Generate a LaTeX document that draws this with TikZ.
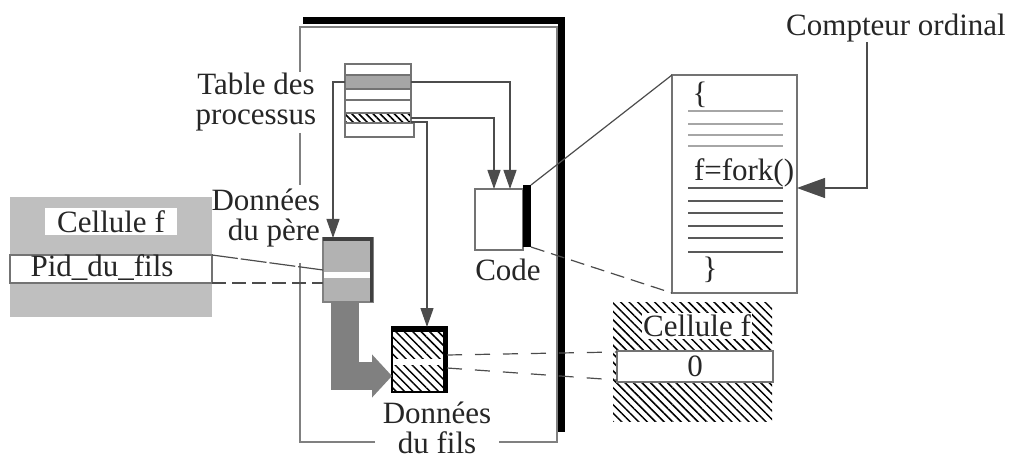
\documentclass[tikz,border=0pt]{standalone}
\usepackage{fontspec}
\setmainfont{Liberation Serif}
\usetikzlibrary{arrows.meta,patterns.meta}
\begin{document}
\begin{tikzpicture}[x=1pt,y=-1pt,
  every node/.style={font=\fontsize{31}{30.5}\selectfont, text=black!85, inner sep=0pt, outer sep=0pt},
  box/.style={draw=black!55, line width=1.2pt, minimum width=#1},
  boxh/.style={minimum height=#1},
  hatch/.style={pattern={Lines[angle=-45,distance=6pt,line width=1.5pt]}},
  conn/.style={draw=black!70, line width=1.2pt},
  arr/.style={conn, -{Triangle[length=19pt,width=13pt]}},
  frameline/.style={draw=black!50, line width=1.5pt},
  codeline/.style={line width=2.4pt, draw=black!35},
  codeline2/.style={line width=1.5pt, draw=black!65}
]
\useasboundingbox (0,0) rectangle (1014,462);

% frame
\draw[frameline] (300,72) -- (300,27) -- (557,27) -- (557,442) -- (499,442);
\draw[frameline] (375,442) -- (300,442) -- (300,263);
\draw[frameline] (300,133) -- (300,185);
\draw[line width=7pt, black] (303,21) -- (561,21) -- (561,432);

% table des processus
\node[box=66, boxh=11, fill=white] (r1) at (378,69.5) {};
\node[box=66, boxh=14, fill=black!35] (r2) at (378,82) {};
\node[box=66, boxh=11, fill=white] (r3) at (378,94.5) {};
\node[box=66, boxh=13, fill=white] (r4) at (378,106.5) {};
\node[box=66, boxh=10, pattern={Lines[angle=-45,distance=5pt,line width=1.6pt]}] (r5) at (378,118) {};
\node[box=69, boxh=14, fill=white] (r6) at (379.5,130) {};
\node[align=center] (ttab) at (256,102) {Table des\\processus};

% left cell
\node[minimum width=202, minimum height=120, fill=black!25] (cell) at (111,257) {};
\node[minimum width=132, minimum height=27, fill=white] (cellt) at (111,221.5) {Cellule f};
\node[box=202, boxh=28, fill=white] (pid) at (111,269) {};
\node (pidt) at (102,268) {Pid\_du\_fils};

% donnees du pere
\node[box=50, boxh=64, fill=black!30, draw=black!50] (pere) at (348,270) {};
\fill[white] (324,272) rectangle (372,278);
\draw[line width=4pt, black!75] (pere.north west) ++(0,1.5) -- ++(50,0);
\draw[line width=3pt, black!75] (pere.north east) ++(-1.5,0) -- ++(0,64);
\node[align=right, anchor=east] (tpere) at (320,218) {Données\\du père};

% donnees du fils
\node[box=55, boxh=65, draw=black, hatch] (fils) at (419.5,359.5) {};
\fill[white] (393,359) rectangle (446,365);
\draw[line width=5pt, black] (fils.north west) ++(0,2) -- ++(55,0);
\draw[line width=4pt, black] (fils.north east) ++(-2,0) -- ++(0,65);
\node[align=center] (tfils) at (437,428) {Données\\du fils};

% gray thick arrow
\draw[line width=28pt, draw=black!50, -{Triangle[length=20pt,width=42pt]}]
  ([xshift=-3pt]pere.south) |- ([yshift=-16.5pt]fils.west);

% code
\node[box=48, boxh=61, fill=white] (code) at (499,219.5) {};
\node[minimum width=8, minimum height=62, fill=black] (bar) at (527,216) {};
\node (tcode) at (508,270) {Code};

% listing
\node[box=125, boxh=218, fill=white] (lst) at (734.5,184) {};
\node (ob) at (700,95) {\{};
\foreach \yy in {111,124,135,146} \draw[codeline] (688,\yy) -- (783,\yy);
\node[anchor=west] (fork) at (694,173) {f=fork()};
\foreach \yy in {188,201,213,226,238,252} \draw[codeline2] (688,\yy) -- (783,\yy);
\node (cb) at (710,270) {\}};

% compteur ordinal
\node (co) at (896,28) {Compteur ordinal};
\coordinate (cx) at (867,0);
\draw[conn, -{Triangle[length=28pt,width=20pt]}] (co.south -| cx) |- ([yshift=-4pt]lst.east);

% right cell
\node[minimum width=159, minimum height=119, hatch] (zc) at (692.5,361.5) {};
\node[fill=white, inner sep=1.5pt] (zct) at (697,326) {Cellule f};
\node[box=156, boxh=31, fill=white] (zero) at (695,366.5) {0};

% connectors
\coordinate (ax1) at (333,0);
\coordinate (ax2) at (510,0);
\coordinate (ax3) at (494,0);
\coordinate (ax4) at (427,0);
\draw[arr] (r2.west) -| (ax1 |- pere.north);
\draw[arr] (r2.east) -| (ax2 |- code.north);
\draw[arr] (r5.east) -| (ax3 |- code.north);
\draw[arr] ([yshift=-4pt]r5.east) -| (ax4 |- fils.north);

\draw[conn] (bar.north east) -- (lst.north west);
\draw[conn, dash pattern=on 14pt off 7pt] (bar.south east) -- (lst.south west);
\draw[conn, dash pattern=on 26pt off 3pt] (pid.north east) -- (pere.west);
\draw[conn, dash pattern=on 14pt off 6pt] (pid.south east) -- (pid.south east -| pere.west);
\draw[conn, dash pattern=on 15pt off 13pt] ([yshift=4.5pt]fils.east) -- ([yshift=-1pt]zero.north west);
\draw[conn, dash pattern=on 15pt off 13pt] ([yshift=-8.5pt]fils.east) -- ([yshift=2pt]zero.south west);
\end{tikzpicture}
\end{document}
